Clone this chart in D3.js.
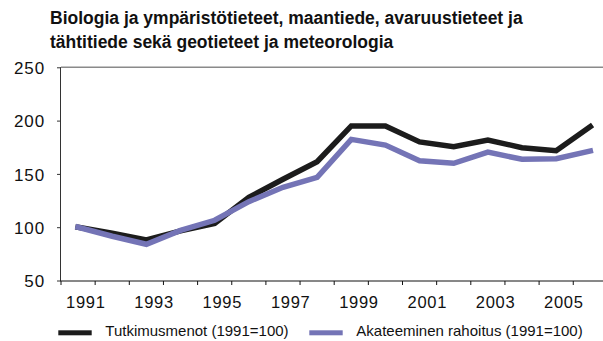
<!DOCTYPE html>
<html>
<head>
<meta charset="utf-8">
<script src="https://cdn.jsdelivr.net/npm/d3@7"></script>
<style>
  html, body { margin: 0; padding: 0; background: #fff; }
  svg { display: block; font-family: "Liberation Sans", Arial, Helvetica, sans-serif; }
</style>
</head>
<body>
<svg id="chart" width="603" height="341"></svg>
<script>
// Index series, 1991 = 100
const years = [1991, 1992, 1993, 1994, 1995, 1996, 1997, 1998,
               1999, 2000, 2001, 2002, 2003, 2004, 2005, 2006];
const tutkimusmenot = [100, 94.3, 88, 96.5, 103.5, 128, 145, 161.4,
                       195, 195, 180, 175.5, 181.8, 174.6, 171.8, 194.3];
const akateeminenRahoitus = [100, 91.5, 84, 97, 106.5, 124, 137.4, 146.8,
                             182.4, 177, 162.4, 160, 170.5, 163.7, 164.3, 171.5];
const yTicks = [50, 100, 150, 200, 250];
const xLabelYears = [1991, 1993, 1995, 1997, 1999, 2001, 2003, 2005];
const titleLines = [
  "Biologia ja ympäristötieteet, maantiede, avaruustieteet ja",
  "tähtitiede sekä geotieteet ja meteorologia"
];
const seriesNames = ["Tutkimusmenot (1991=100)", "Akateeminen rahoitus (1991=100)"];
const seriesColors = ["#1c1c1c", "#7474b6"];

const svg = d3.select("#chart");

const plotLeft = 61, plotTop = 67.3, plotBottom = 281, step = 34.15;

const x = d3.scaleBand().domain(years).range([plotLeft, plotLeft + step * years.length]).padding(0);
const y = d3.scaleLinear().domain([50, 250]).range([280.5, plotTop]);
const cx = d => x(d) + x.bandwidth() / 2;

// Title
svg.append("g").selectAll("text").data(titleLines).join("text")
  .attr("x", 50).attr("y", (d, i) => 23.5 + i * 24)
  .attr("font-weight", "bold").attr("font-size", 17.5)
  .attr("fill", "#111")
  .text(d => d);

// Top frame line at 250
svg.append("line")
  .attr("x1", plotLeft).attr("x2", 603).attr("y1", y(250)).attr("y2", y(250))
  .attr("stroke", "#8a8a8a").attr("stroke-width", 1.5);

// Y axis
const yAxis = svg.append("g")
  .attr("transform", `translate(${plotLeft},0)`)
  .call(d3.axisLeft(y).tickValues(yTicks).tickSize(4).tickPadding(12).tickFormat(d3.format("d")));
yAxis.select(".domain").attr("stroke", "#333").attr("d", `M-0.5,${y(250)}V${plotBottom}`);
yAxis.selectAll(".tick line").attr("stroke", "#333");
yAxis.selectAll(".tick text")
  .attr("font-size", 17).attr("letter-spacing", 0.9)
  .attr("font-family", "Liberation Sans, Arial, sans-serif")
  .attr("fill", "#111").attr("dy", "0.36em");

// X axis: ticks on year boundaries
const xAxis = svg.append("g");
xAxis.append("line")
  .attr("x1", plotLeft - 0.5).attr("x2", 603).attr("y1", plotBottom).attr("y2", plotBottom)
  .attr("stroke", "#111").attr("stroke-width", 1);
const boundaries = years.map(d => x(d)).concat([x(years[years.length - 1]) + x.bandwidth()]);
xAxis.selectAll("line.tick").data(boundaries).join("line")
  .attr("class", "tick")
  .attr("x1", d => d).attr("x2", d => d)
  .attr("y1", plotBottom).attr("y2", plotBottom + 4)
  .attr("stroke", "#111");
xAxis.selectAll("text").data(xLabelYears).join("text")
  .attr("x", d => x(d) + 5).attr("y", 308.3)
  .attr("font-size", 16.5).attr("letter-spacing", 0.7)
  .attr("fill", "#111")
  .text(d => d);

// Lines
const line = d3.line().x((d, i) => cx(years[i])).y(d => y(d));
[tutkimusmenot, akateeminenRahoitus].forEach((vals, k) => {
  svg.append("path")
    .datum(vals)
    .attr("d", line)
    .attr("fill", "none")
    .attr("stroke", seriesColors[k])
    .attr("stroke-width", 5.5)
    .attr("stroke-linejoin", "miter")
    .attr("stroke-linecap", "square");
});

// Legend
const legendItems = [
  { name: seriesNames[0], color: seriesColors[0], x: 58.3 },
  { name: seriesNames[1], color: seriesColors[1], x: 309.3 }
];
const lg = svg.append("g").selectAll("g").data(legendItems).join("g")
  .attr("transform", d => `translate(${d.x},0)`);
lg.append("rect")
  .attr("x", 0).attr("y", 330.3).attr("width", 33.4).attr("height", 5)
  .attr("fill", d => d.color);
lg.append("text")
  .attr("x", 47).attr("y", 336)
  .attr("font-size", 15).attr("fill", "#111")
  .text(d => d.name);
</script>
</body>
</html>
